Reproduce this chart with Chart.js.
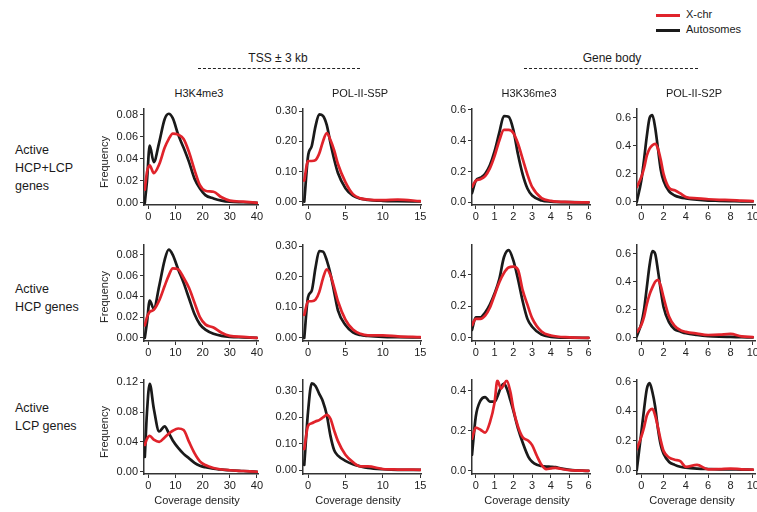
<!DOCTYPE html>
<html lang="en">
<head>
  <meta charset="UTF-8">
  <title>Coverage density – X-chr vs autosomes</title>
  <script src="https://cdn.jsdelivr.net/npm/chart.js"></script>
  <style>
    body {
      margin: 0;
      width: 757px;
      height: 512px;
      overflow: hidden;
      background: #fff;
      font-family: 'Liberation Sans', Arial, sans-serif;
      color: #1a1a1a;
      position: relative;
    }
    .abs { position: absolute; white-space: nowrap; }
    .rowlab { font-size: 12.5px; line-height: 18px; left: 15px; }
    .ptitle { font-size: 11px; transform: translateX(-50%); }
    .xlab { font-size: 11px; transform: translateX(-50%); color: #222; }
    .ylab { font-size: 11px; transform: translate(-50%, -50%) rotate(-90deg); color: #222; }
    .head { font-size: 12px; transform: translateX(-50%); }
    .dash { border-top: 1px dashed #222; height: 0; }
    .leg { font-size: 11px; }
    .legline { height: 3px; width: 24px; }
    canvas { position: absolute; }
  </style>
</head>
<body>
  <div class="abs legline" style="left:656px; top:14px; background:#e0232b;"></div>
  <div class="abs leg" style="left:686px; top:8px;">X-chr</div>
  <div class="abs legline" style="left:656px; top:29px; background:#1a1a1a;"></div>
  <div class="abs leg" style="left:686px; top:23px;">Autosomes</div>

  <div class="abs head" style="left:278px; top:51px;">TSS ± 3 kb</div>
  <div class="abs dash" style="left:198px; top:68px; width:162px;"></div>
  <div class="abs head" style="left:612px; top:51px;">Gene body</div>
  <div class="abs dash" style="left:524px; top:68px; width:174px;"></div>

  <div class="abs rowlab" style="top:141px;">Active<br>HCP+LCP<br>genes</div>
  <div class="abs rowlab" style="top:280px;">Active<br>HCP genes</div>
  <div class="abs rowlab" style="top:399px;">Active<br>LCP genes</div>

  <script>
    // x grids (coverage density)
    const xTSSmark = [-1.3, -0.5, 0.5, 2, 4, 6, 7.5, 9, 11, 13, 15, 17, 19, 21, 24, 27, 30, 35, 40];
    const xS5P = [-0.5, 0, 0.5, 1, 1.5, 2, 2.5, 3, 3.5, 4, 5, 6, 7, 8, 10, 12, 15];
    const xK36 = [-0.2, 0, 0.25, 0.5, 0.75, 1, 1.25, 1.5, 1.75, 2, 2.25, 2.5, 2.75, 3, 3.5, 4, 5, 6];
    const xK36lcp = [-0.2, 0, 0.25, 0.5, 0.75, 1, 1.15, 1.35, 1.5, 1.65, 1.85, 2, 2.25, 2.5, 2.8, 3, 3.25, 3.5, 3.75, 4, 4.25, 4.5, 5, 6];
    const xS2P = [-0.4, 0, 0.25, 0.5, 0.75, 1, 1.25, 1.5, 1.75, 2, 2.5, 3, 3.5, 4, 5, 6, 7, 8, 9, 10];

    // frequency values, X-chr (red) and autosomes (black)
    const all_K4_X = [0.012, 0.028, 0.034, 0.027, 0.035, 0.050, 0.058, 0.063, 0.062, 0.058, 0.046, 0.030, 0.016, 0.011, 0.010, 0.005, 0.002, 0.001, 0];
    const all_K4_A = [0.0, 0.02, 0.052, 0.037, 0.055, 0.076, 0.081, 0.077, 0.062, 0.050, 0.037, 0.022, 0.013, 0.007, 0.004, 0.002, 0.001, 0.0005, 0];
    const hcp_K4_X = [0.012, 0.02, 0.025, 0.027, 0.036, 0.050, 0.060, 0.067, 0.066, 0.058, 0.048, 0.034, 0.020, 0.013, 0.010, 0.005, 0.002, 0.001, 0];
    const hcp_K4_A = [0.0, 0.015, 0.036, 0.028, 0.050, 0.075, 0.085, 0.080, 0.066, 0.053, 0.038, 0.023, 0.013, 0.008, 0.004, 0.002, 0.001, 0.0005, 0];
    const lcp_K4_X = [0.036, 0.044, 0.048, 0.043, 0.040, 0.046, 0.051, 0.055, 0.058, 0.056, 0.040, 0.025, 0.014, 0.009, 0.005, 0.003, 0.002, 0.001, 0];
    const lcp_K4_A = [0.02, 0.08, 0.118, 0.085, 0.054, 0.061, 0.052, 0.042, 0.032, 0.024, 0.018, 0.012, 0.008, 0.006, 0.004, 0.003, 0.002, 0.001, 0];

    const all_S5P_X = [0.07, 0.135, 0.135, 0.138, 0.16, 0.2, 0.228, 0.205, 0.17, 0.125, 0.065, 0.025, 0.011, 0.007, 0.005, 0.007, 0.002];
    const all_S5P_A = [0.0, 0.15, 0.185, 0.25, 0.29, 0.285, 0.255, 0.195, 0.14, 0.095, 0.045, 0.02, 0.01, 0.006, 0.003, 0.002, 0.001];
    const hcp_S5P_X = [0.075, 0.12, 0.12, 0.125, 0.15, 0.195, 0.225, 0.205, 0.165, 0.12, 0.06, 0.027, 0.013, 0.008, 0.008, 0.005, 0.002];
    const hcp_S5P_A = [0.0, 0.133, 0.155, 0.23, 0.285, 0.283, 0.255, 0.21, 0.15, 0.09, 0.042, 0.018, 0.009, 0.006, 0.003, 0.002, 0.001];
    const lcp_S5P_X = [0.08, 0.168, 0.178, 0.185, 0.19, 0.2, 0.21, 0.195, 0.15, 0.11, 0.058, 0.03, 0.014, 0.014, 0.004, 0.002, 0.001];
    const lcp_S5P_A = [0.02, 0.22, 0.33, 0.32, 0.29, 0.26, 0.21, 0.13, 0.075, 0.055, 0.035, 0.022, 0.014, 0.008, 0.003, 0.001, 0.001];

    const all_K36_X = [0.10, 0.14, 0.15, 0.17, 0.22, 0.30, 0.40, 0.47, 0.47, 0.45, 0.38, 0.28, 0.18, 0.10, 0.028, 0.01, 0.002, 0];
    const all_K36_A = [0.06, 0.14, 0.16, 0.185, 0.24, 0.33, 0.45, 0.56, 0.555, 0.47, 0.31, 0.18, 0.09, 0.045, 0.012, 0.005, 0.001, 0];
    const hcp_K36_X = [0.08, 0.12, 0.12, 0.14, 0.19, 0.27, 0.35, 0.41, 0.445, 0.45, 0.43, 0.30, 0.21, 0.125, 0.04, 0.015, 0.003, 0];
    const hcp_K36_A = [0.05, 0.13, 0.13, 0.16, 0.21, 0.28, 0.37, 0.51, 0.555, 0.49, 0.37, 0.23, 0.12, 0.07, 0.02, 0.006, 0.001, 0];
    const lcp_K36_X = [0.16, 0.215, 0.205, 0.19, 0.24, 0.34, 0.45, 0.41, 0.43, 0.45, 0.39, 0.31, 0.22, 0.167, 0.15, 0.128, 0.075, 0.03, 0.008, 0.012, 0.015, 0.01, 0.003, 0];
    const lcp_K36_A = [0.08, 0.27, 0.35, 0.368, 0.345, 0.345, 0.37, 0.42, 0.435, 0.41, 0.35, 0.30, 0.21, 0.14, 0.07, 0.045, 0.03, 0.024, 0.021, 0.02, 0.018, 0.012, 0.005, 0];

    const all_S2P_X = [0.105, 0.175, 0.24, 0.33, 0.38, 0.405, 0.415, 0.38, 0.3, 0.2, 0.1, 0.082, 0.06, 0.035, 0.024, 0.018, 0.014, 0.012, 0.008, 0.005];
    const all_S2P_A = [0.0, 0.15, 0.3, 0.47, 0.6, 0.62, 0.53, 0.38, 0.23, 0.15, 0.075, 0.045, 0.032, 0.025, 0.015, 0.009, 0.007, 0.005, 0.003, 0.002];
    const hcp_S2P_X = [0.04, 0.09, 0.15, 0.24, 0.31, 0.36, 0.4, 0.414, 0.37, 0.29, 0.15, 0.085, 0.055, 0.042, 0.03, 0.02, 0.022, 0.028, 0.01, 0.005];
    const hcp_S2P_A = [0.01, 0.1, 0.2, 0.36, 0.52, 0.62, 0.6, 0.48, 0.34, 0.22, 0.11, 0.06, 0.045, 0.032, 0.02, 0.012, 0.008, 0.006, 0.004, 0.002];
    const lcp_S2P_X = [0.14, 0.225, 0.29, 0.37, 0.405, 0.415, 0.37, 0.29, 0.2, 0.13, 0.085, 0.07, 0.06, 0.022, 0.035, 0.005, 0.006, 0.01, 0.005, 0.003];
    const lcp_S2P_A = [0.0, 0.25, 0.41, 0.55, 0.59, 0.53, 0.43, 0.28, 0.17, 0.11, 0.055, 0.035, 0.022, 0.016, 0.01, 0.007, 0.005, 0.004, 0.003, 0.002];

    // tick labels
    const titles = ['H3K4me3', 'POL-II-S5P', 'H3K36me3', 'POL-II-S2P'];
    const xTicks = [[0, 10, 20, 30, 40], [0, 5, 10, 15], [0, 1, 2, 3, 4, 5, 6], [0, 2, 4, 6, 8, 10]];
    const yTicks = [
      [[0, 0.02, 0.04, 0.06, 0.08], [0, 0.1, 0.2, 0.3], [0, 0.2, 0.4, 0.6], [0, 0.2, 0.4, 0.6]],
      [[0, 0.02, 0.04, 0.06, 0.08], [0, 0.1, 0.2, 0.3], [0, 0.2, 0.4], [0, 0.2, 0.4, 0.6]],
      [[0, 0.04, 0.08, 0.12], [0, 0.1, 0.2, 0.3], [0, 0.2, 0.4], [0, 0.2, 0.4, 0.6]]
    ];
    const yDec = [2, 2, 1, 1];

    // layout
    const cols = [
      { left: 144, right: 258, xmin: -1.6, xmax: 40.4 },
      { left: 303, right: 421, xmin: -0.67, xmax: 15.1 },
      { left: 472, right: 590, xmin: -0.2, xmax: 6.08 },
      { left: 637, right: 755, xmin: -0.38, xmax: 10.2 }
    ];
    const rows = [{ top: 108, bottom: 205 }, { top: 244, bottom: 340.5 }, { top: 379, bottom: 474 }];
    const yRange = [
      [[-0.002, 0.0857], [-0.011, 0.309], [-0.017, 0.608], [-0.023, 0.667]],
      [[-0.003, 0.0899], [-0.0105, 0.306], [-0.020, 0.590], [-0.023, 0.666]],
      [[-0.003, 0.1236], [-0.015, 0.344], [-0.016, 0.455], [-0.027, 0.614]]
    ];

    const series = [
      [[xTSSmark, all_K4_X, all_K4_A], [xS5P, all_S5P_X, all_S5P_A], [xK36, all_K36_X, all_K36_A], [xS2P, all_S2P_X, all_S2P_A]],
      [[xTSSmark, hcp_K4_X, hcp_K4_A], [xS5P, hcp_S5P_X, hcp_S5P_A], [xK36, hcp_K36_X, hcp_K36_A], [xS2P, hcp_S2P_X, hcp_S2P_A]],
      [[xTSSmark, lcp_K4_X, lcp_K4_A], [xS5P, lcp_S5P_X, lcp_S5P_A], [xK36lcp, lcp_K36_X, lcp_K36_A], [xS2P, lcp_S2P_X, lcp_S2P_A]]
    ];

    const RED = '#e0232b', BLACK = '#1a1a1a', AXIS = '#333';
    const YW = 36, XH = 22, PT = 8, PR = 12;
    const tickFont = { family: "'Liberation Sans', Arial, sans-serif", size: 11 };

    function addText(cls, txt, left, top) {
      const d = document.createElement('div');
      d.className = 'abs ' + cls;
      d.textContent = txt;
      d.style.left = left + 'px';
      d.style.top = top + 'px';
      document.body.appendChild(d);
    }

    function panel(r, c) {
      const col = cols[c], row = rows[r];
      const [xs, red, black] = series[r][c];
      const w = Math.round(YW + (col.right - col.left) + PR);
      const h = Math.round(PT + (row.bottom - row.top) + XH);
      const cv = document.createElement('canvas');
      cv.width = w; cv.height = h;
      cv.style.width = w + 'px'; cv.style.height = h + 'px';
      cv.style.left = (col.left - YW) + 'px';
      cv.style.top = (row.top - PT) + 'px';
      document.body.appendChild(cv);

      new Chart(cv, {
        type: 'line',
        data: {
          datasets: [
            { data: xs.map((x, i) => ({ x: x, y: red[i] })), borderColor: RED },
            { data: xs.map((x, i) => ({ x: x, y: black[i] })), borderColor: BLACK }
          ]
        },
        options: {
          responsive: false,
          animation: false,
          layout: { padding: { top: PT, right: PR, left: 0, bottom: 0 } },
          elements: {
            line: { borderWidth: 2.7, cubicInterpolationMode: 'monotone', fill: false, borderJoinStyle: 'round', borderCapStyle: 'round' },
            point: { radius: 0 }
          },
          plugins: { legend: { display: false }, tooltip: { enabled: false } },
          scales: {
            x: {
              type: 'linear',
              min: col.xmin, max: col.xmax,
              afterBuildTicks: s => { s.ticks = xTicks[c].map(v => ({ value: v })); },
              afterFit: s => { s.height = XH; },
              ticks: { autoSkip: false, maxRotation: 0, padding: 1, color: '#222', font: tickFont },
              grid: { drawOnChartArea: false, tickLength: 4, color: AXIS, lineWidth: 1 },
              border: { color: AXIS, width: 1.5 }
            },
            y: {
              min: yRange[r][c][0], max: yRange[r][c][1],
              afterBuildTicks: s => { s.ticks = yTicks[r][c].map(v => ({ value: v })); },
              afterFit: s => { s.width = YW; },
              ticks: { padding: 2, color: '#222', font: tickFont, callback: v => Number(v).toFixed(yDec[c]) },
              grid: { drawOnChartArea: false, tickLength: 4, color: AXIS, lineWidth: 1 },
              border: { color: AXIS, width: 1.5 }
            }
          }
        }
      });
    }

    for (let r = 0; r < 3; r++) {
      for (let c = 0; c < 4; c++) panel(r, c);
      const mid = (rows[r].top + rows[r].bottom) / 2 + 5;
      addText('ylab', 'Frequency', 104, mid);
    }
    cols.forEach((col, c) => {
      const cx = (col.left + col.right) / 2;
      addText('ptitle', titles[c], cx - 2, 87);
      addText('xlab', 'Coverage density', cx - 4, 494);
    });
  </script>
</body>
</html>
